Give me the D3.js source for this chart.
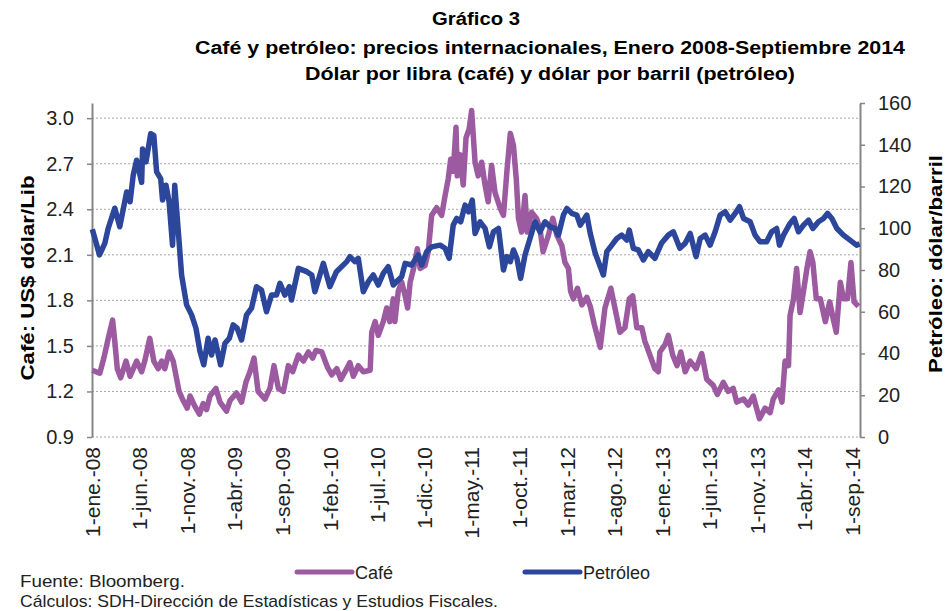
<!DOCTYPE html>
<html>
<head>
<meta charset="utf-8">
<script src="https://cdnjs.cloudflare.com/ajax/libs/d3/7.8.5/d3.min.js"></script>
<style>
    body { margin: 0; background: #ffffff; }
    svg { display: block; font-family: "Liberation Sans", Arial, sans-serif; }
</style>
</head>
<body>
<svg id="chart" width="945" height="611"></svg>
<script>
// Café: dólar por libra
var cafe = [
    ["2008-01-02",1.34],["2008-01-26",1.32],["2008-02-08",1.42],["2008-02-22",1.55],["2008-03-07",1.67],["2008-03-14",1.53],
    ["2008-03-22",1.35],["2008-04-02",1.29],["2008-04-19",1.40],["2008-05-02",1.30],["2008-05-23",1.40],["2008-06-08",1.33],
    ["2008-06-18",1.40],["2008-07-04",1.55],["2008-07-17",1.40],["2008-07-31",1.35],["2008-08-11",1.40],["2008-08-21",1.35],
    ["2008-09-04",1.46],["2008-09-17",1.40],["2008-10-06",1.20],["2008-10-19",1.14],["2008-11-01",1.09],["2008-11-10",1.17],
    ["2008-11-26",1.10],["2008-12-10",1.05],["2008-12-22",1.12],["2009-01-02",1.08],["2009-01-13",1.17],["2009-02-01",1.22],
    ["2009-02-14",1.13],["2009-03-07",1.07],["2009-03-18",1.14],["2009-04-08",1.19],["2009-04-24",1.13],["2009-05-08",1.26],
    ["2009-05-21",1.33],["2009-06-03",1.42],["2009-06-16",1.20],["2009-07-08",1.15],["2009-07-24",1.22],["2009-08-06",1.37],
    ["2009-08-20",1.22],["2009-09-05",1.20],["2009-09-21",1.37],["2009-10-05",1.33],["2009-10-23",1.44],["2009-11-08",1.40],
    ["2009-11-24",1.46],["2009-12-08",1.42],["2009-12-18",1.47],["2010-01-06",1.46],["2010-01-24",1.36],["2010-02-07",1.31],
    ["2010-02-23",1.35],["2010-03-08",1.28],["2010-03-27",1.35],["2010-04-06",1.39],["2010-04-17",1.30],["2010-05-03",1.37],
    ["2010-05-19",1.33],["2010-06-10",1.34],["2010-06-15",1.59],["2010-06-26",1.66],["2010-07-06",1.57],["2010-07-22",1.66],
    ["2010-08-02",1.75],["2010-08-12",1.66],["2010-08-23",1.81],["2010-08-28",1.66],["2010-09-08",1.86],["2010-09-19",1.92],
    ["2010-09-30",1.83],["2010-10-08",1.75],["2010-10-16",1.92],["2010-10-26",2.00],["2010-11-08",2.14],["2010-11-17",2.01],
    ["2010-12-03",2.03],["2010-12-13",2.12],["2010-12-24",2.36],["2011-01-09",2.41],["2011-01-25",2.36],["2011-02-05",2.49],
    ["2011-02-15",2.60],["2011-02-23",2.73],["2011-03-03",2.65],["2011-03-12",2.94],["2011-03-16",2.62],["2011-03-25",2.76],
    ["2011-04-04",2.56],["2011-04-13",2.87],["2011-04-23",2.93],["2011-05-01",3.05],["2011-05-12",2.71],["2011-05-22",2.62],
    ["2011-06-02",2.71],["2011-06-13",2.56],["2011-06-23",2.45],["2011-07-04",2.69],["2011-07-15",2.51],["2011-07-31",2.41],
    ["2011-08-11",2.36],["2011-08-22",2.65],["2011-09-02",2.90],["2011-09-12",2.82],["2011-09-21",2.60],["2011-09-28",2.34],
    ["2011-10-08",2.25],["2011-10-19",2.49],["2011-10-26",2.25],["2011-11-09",2.38],["2011-11-25",2.34],["2011-12-06",2.27],
    ["2011-12-16",2.12],["2012-01-02",2.23],["2012-01-16",2.34],["2012-01-29",2.23],["2012-02-14",2.16],["2012-02-24",2.05],
    ["2012-03-06",2.01],["2012-03-13",1.86],["2012-03-22",1.81],["2012-04-04",1.88],["2012-04-18",1.77],["2012-05-04",1.82],
    ["2012-05-15",1.76],["2012-05-28",1.64],["2012-06-16",1.49],["2012-07-01",1.75],["2012-07-20",1.88],["2012-08-02",1.75],
    ["2012-08-18",1.59],["2012-09-03",1.62],["2012-09-17",1.81],["2012-09-28",1.83],["2012-10-11",1.62],["2012-10-27",1.62],
    ["2012-11-06",1.53],["2012-11-22",1.44],["2012-12-08",1.35],["2012-12-19",1.33],["2012-12-24",1.46],["2013-01-10",1.51],
    ["2013-01-20",1.57],["2013-02-03",1.44],["2013-02-17",1.37],["2013-03-01",1.46],["2013-03-15",1.33],["2013-03-31",1.40],
    ["2013-04-19",1.35],["2013-05-07",1.45],["2013-05-23",1.28],["2013-06-13",1.24],["2013-06-26",1.18],["2013-07-15",1.26],
    ["2013-07-31",1.20],["2013-08-16",1.22],["2013-08-27",1.13],["2013-09-18",1.15],["2013-10-03",1.11],["2013-10-19",1.17],
    ["2013-11-08",1.02],["2013-11-26",1.09],["2013-12-12",1.06],["2013-12-22",1.15],["2014-01-08",1.21],["2014-01-19",1.13],
    ["2014-01-29",1.40],["2014-02-09",1.37],["2014-02-14",1.70],["2014-02-25",1.81],["2014-03-07",2.01],["2014-03-18",1.72],
    ["2014-03-29",1.86],["2014-04-09",2.01],["2014-04-19",2.12],["2014-04-28",2.05],["2014-05-09",1.81],["2014-05-22",1.81],
    ["2014-06-07",1.66],["2014-06-21",1.79],["2014-07-02",1.68],["2014-07-12",1.59],["2014-07-25",1.92],["2014-08-04",1.81],
    ["2014-08-17",1.81],["2014-08-28",2.05],["2014-09-07",1.79],["2014-09-21",1.76]
];

// Petróleo: dólar por barril
var petroleo = [
    ["2008-01-02",99.5],["2008-01-25",87.2],["2008-02-11",92.8],["2008-02-22",100.0],["2008-03-14",109.6],["2008-03-30",100.7],
    ["2008-04-21",117.4],["2008-05-02",112.7],["2008-05-12",125.4],["2008-05-23",132.6],["2008-06-08",122.0],["2008-06-11",138.0],
    ["2008-06-22",131.8],["2008-07-07",145.3],["2008-07-17",144.5],["2008-07-26",127.0],["2008-08-08",123.8],["2008-08-14",113.5],
    ["2008-08-25",120.6],["2008-09-04",112.6],["2008-09-15",91.9],["2008-09-22",120.6],["2008-10-06",93.5],["2008-10-14",77.6],
    ["2008-10-30",63.3],["2008-11-15",58.5],["2008-11-29",52.1],["2008-12-12",40.9],["2008-12-24",34.6],["2009-01-07",47.3],
    ["2009-01-18",39.3],["2009-01-29",46.5],["2009-02-16",34.6],["2009-03-02",44.9],["2009-03-16",47.3],["2009-03-28",53.7],
    ["2009-04-10",52.1],["2009-04-24",46.5],["2009-05-10",58.5],["2009-05-26",61.7],["2009-06-11",72.0],["2009-06-27",70.4],
    ["2009-07-13",60.0],["2009-07-29",68.0],["2009-08-14",68.0],["2009-08-25",73.6],["2009-09-10",68.0],["2009-09-24",72.0],
    ["2009-10-01",65.6],["2009-10-23",80.8],["2009-11-19",79.2],["2009-12-05",77.6],["2009-12-15",69.6],["2010-01-11",83.2],
    ["2010-02-01",72.0],["2010-02-22",79.2],["2010-03-27",84.0],["2010-04-06",86.4],["2010-04-22",84.0],["2010-05-03",85.6],
    ["2010-05-19",69.6],["2010-06-04",74.4],["2010-06-20",77.6],["2010-07-06",72.8],["2010-07-22",78.4],["2010-08-07",81.6],
    ["2010-08-23",72.8],["2010-09-08",75.2],["2010-09-19",76.8],["2010-09-30",83.2],["2010-10-21",82.4],["2010-11-11",87.2],
    ["2010-11-22",82.4],["2010-12-08",88.8],["2010-12-24",91.1],["2011-01-20",91.9],["2011-02-05",90.4],["2011-02-18",85.6],
    ["2011-03-03",101.5],["2011-03-14",104.7],["2011-03-27",103.1],["2011-04-10",111.1],["2011-04-21",107.9],["2011-05-03",113.5],
    ["2011-05-12",97.5],["2011-05-28",103.1],["2011-06-13",99.9],["2011-06-27",91.1],["2011-07-10",98.3],["2011-07-26",99.9],
    ["2011-08-11",80.0],["2011-08-22",86.4],["2011-09-02",84.0],["2011-09-12",89.6],["2011-09-23",85.6],["2011-10-05",76.0],
    ["2011-10-19",87.2],["2011-11-04",95.1],["2011-11-20",103.1],["2011-12-06",98.3],["2011-12-22",103.1],["2012-01-07",100.7],
    ["2012-01-23",99.9],["2012-02-03",96.7],["2012-02-19",106.3],["2012-03-01",109.5],["2012-03-17",107.1],["2012-04-02",106.3],
    ["2012-04-13",101.5],["2012-05-04",106.3],["2012-05-15",97.5],["2012-05-31",88.0],["2012-06-10",84.0],["2012-06-26",77.6],
    ["2012-07-07",88.8],["2012-07-23",91.9],["2012-08-08",95.1],["2012-08-24",96.7],["2012-09-09",94.3],["2012-09-17",99.1],
    ["2012-09-30",90.4],["2012-10-16",89.6],["2012-11-01",84.8],["2012-11-17",88.8],["2012-12-08",85.6],["2012-12-29",92.8],
    ["2013-01-20",96.7],["2013-02-05",98.3],["2013-02-26",90.4],["2013-03-15",92.8],["2013-03-31",97.5],["2013-04-19",86.4],
    ["2013-05-02",95.1],["2013-05-18",96.7],["2013-06-03",91.9],["2013-06-19",98.3],["2013-07-05",106.3],["2013-07-21",107.9],
    ["2013-08-06",103.9],["2013-08-22",107.1],["2013-09-05",110.3],["2013-09-18",104.7],["2013-10-09",103.1],["2013-10-25",96.7],
    ["2013-11-10",93.5],["2013-12-01",93.5],["2013-12-17",98.3],["2014-01-02",99.9],["2014-01-11",91.9],["2014-01-24",96.7],
    ["2014-02-14",102.3],["2014-02-27",104.7],["2014-03-13",98.3],["2014-03-29",101.5],["2014-04-14",103.9],["2014-04-28",99.9],
    ["2014-05-16",103.1],["2014-06-01",104.7],["2014-06-14",107.1],["2014-06-28",104.7],["2014-07-14",99.9],["2014-08-04",96.7],
    ["2014-08-25",94.3],["2014-09-15",91.9],["2014-09-25",92.5]
];

var leftTicks = [0.9, 1.2, 1.5, 1.8, 2.1, 2.4, 2.7, 3.0];
var rightTicks = [0, 20, 40, 60, 80, 100, 120, 140, 160];
var xTickDates = ["2008-01-01", "2008-06-01", "2008-11-01", "2009-04-01", "2009-09-01", "2010-02-01",
    "2010-07-01", "2010-12-01", "2011-05-01", "2011-10-01", "2012-03-01", "2012-08-01", "2013-01-01",
    "2013-06-01", "2013-11-01", "2014-04-01", "2014-09-01"];
var xTickLabels = ["1-ene.-08", "1-jun.-08", "1-nov.-08", "1-abr.-09", "1-sep.-09", "1-feb.-10",
    "1-jul.-10", "1-dic.-10", "1-may.-11", "1-oct.-11", "1-mar.-12", "1-ago.-12", "1-ene.-13",
    "1-jun.-13", "1-nov.-13", "1-abr.-14", "1-sep.-14"];

var colors = { cafe: "#9c5aa1", petroleo: "#2b469b" };
var parse = d3.timeParse("%Y-%m-%d");
var svg = d3.select("#chart");

var x = d3.scaleTime()
    .domain([parse("2008-01-01"), parse("2014-09-26")])
    .range([92, 860]);
var yCafe = d3.scaleLinear().domain([0.9, 3.1]).range([437, 103]);
var yPetro = d3.scaleLinear().domain([0, 160]).range([437, 103]);

//gridlines (dotted)
svg.append("g").selectAll("line").data(leftTicks).enter().append("line")
    .attr("x1", 92)
    .attr("x2", 860)
    .attr("y1", function (d) { return yCafe(d); })
    .attr("y2", function (d) { return yCafe(d); })
    .style("stroke", "#a6a6a6")
    .style("stroke-width", 1)
    .style("stroke-dasharray", "2,2");

//left axis
var leftAxis = svg.append("g")
    .attr("transform", "translate(92,0)")
    .call(d3.axisLeft(yCafe).tickValues(leftTicks).tickFormat(d3.format(".1f"))
        .tickSize(5).tickSizeOuter(0).tickPadding(13));

//right axis
var rightAxis = svg.append("g")
    .attr("transform", "translate(860,0)")
    .call(d3.axisRight(yPetro).tickValues(rightTicks)
        .tickSize(5).tickSizeOuter(0).tickPadding(13));

[leftAxis, rightAxis].forEach(function (g) {
    g.attr("font-family", null).attr("font-size", null);
    g.select(".domain").style("stroke", "#868686").style("stroke-width", 2);
    g.selectAll(".tick line").style("stroke", "#868686").style("stroke-width", 1.5);
    g.selectAll(".tick text").style("font-size", "20px").style("fill", "#222");
});

//date labels
var bottomAxis = svg.append("g")
    .attr("transform", "translate(0,437)")
    .call(d3.axisBottom(x)
        .tickValues(xTickDates.map(parse))
        .tickFormat(function (d, i) { return xTickLabels[i]; })
        .tickSize(0).tickSizeOuter(0));
bottomAxis.attr("font-family", null).attr("font-size", null);
bottomAxis.select(".domain").remove();
bottomAxis.selectAll(".tick text")
    .attr("transform", "rotate(-90)")
    .attr("text-anchor", "end")
    .attr("x", -10)
    .attr("y", 0)
    .attr("dy", "0.35em")
    .style("font-size", "21px")
    .style("fill", "#222");

//series
var lineCafe = d3.line()
    .x(function (d) { return x(parse(d[0])); })
    .y(function (d) { return yCafe(d[1]); });
var linePetro = d3.line()
    .x(function (d) { return x(parse(d[0])); })
    .y(function (d) { return yPetro(d[1]); });

svg.append("path")
    .datum(cafe)
    .attr("d", lineCafe)
    .style("fill", "none")
    .style("stroke", colors.cafe)
    .style("stroke-width", 5.5)
    .style("stroke-linejoin", "round");

svg.append("path")
    .datum(petroleo)
    .attr("d", linePetro)
    .style("fill", "none")
    .style("stroke", colors.petroleo)
    .style("stroke-width", 5.5)
    .style("stroke-linejoin", "round");

//titles
svg.append("text")
    .attr("x", 476)
    .attr("y", 25)
    .attr("text-anchor", "middle")
    .attr("textLength", 88)
    .attr("lengthAdjust", "spacingAndGlyphs")
    .style("font-size", "18px")
    .style("font-weight", "bold")
    .text("Gráfico 3");

svg.append("text")
    .attr("x", 550)
    .attr("y", 54)
    .attr("text-anchor", "middle")
    .attr("textLength", 710)
    .attr("lengthAdjust", "spacingAndGlyphs")
    .style("font-size", "18px")
    .style("font-weight", "bold")
    .text("Café y petróleo: precios internacionales, Enero 2008-Septiembre 2014");

svg.append("text")
    .attr("x", 550)
    .attr("y", 80)
    .attr("text-anchor", "middle")
    .attr("textLength", 490)
    .attr("lengthAdjust", "spacingAndGlyphs")
    .style("font-size", "18px")
    .style("font-weight", "bold")
    .text("Dólar por libra (café) y dólar por barril (petróleo)");

//axis titles
svg.append("text")
    .attr("transform", "translate(34,278) rotate(-90)")
    .attr("text-anchor", "middle")
    .attr("textLength", 205)
    .attr("lengthAdjust", "spacingAndGlyphs")
    .style("font-size", "19px")
    .style("font-weight", "bold")
    .text("Café: US$ dólar/Lib");

svg.append("text")
    .attr("transform", "translate(942,264) rotate(-90)")
    .attr("text-anchor", "middle")
    .attr("textLength", 218)
    .attr("lengthAdjust", "spacingAndGlyphs")
    .style("font-size", "19px")
    .style("font-weight", "bold")
    .text("Petróleo: dólar/barril");

//legend
var legend = [
    { name: "Café", color: colors.cafe, x: 297 },
    { name: "Petróleo", color: colors.petroleo, x: 525 }
];
var lg = svg.append("g").selectAll("g").data(legend).enter().append("g")
    .attr("transform", function (d) { return "translate(" + d.x + ",572)"; });
lg.append("line")
    .attr("x1", 0)
    .attr("x2", 55)
    .style("stroke", function (d) { return d.color; })
    .style("stroke-width", 5)
    .style("stroke-linecap", "round");
lg.append("text")
    .attr("x", 58)
    .attr("y", 7)
    .style("font-size", "18px")
    .style("fill", "#222")
    .text(function (d) { return d.name; });

//notes
svg.append("text")
    .attr("x", 20)
    .attr("y", 587)
    .attr("textLength", 165)
    .attr("lengthAdjust", "spacingAndGlyphs")
    .style("font-size", "17px")
    .style("fill", "#222")
    .text("Fuente: Bloomberg.");

svg.append("text")
    .attr("x", 20)
    .attr("y", 607)
    .attr("textLength", 478)
    .attr("lengthAdjust", "spacingAndGlyphs")
    .style("font-size", "17px")
    .style("fill", "#222")
    .text("Cálculos: SDH-Dirección de Estadísticas y Estudios Fiscales.");
</script>
</body>
</html>
